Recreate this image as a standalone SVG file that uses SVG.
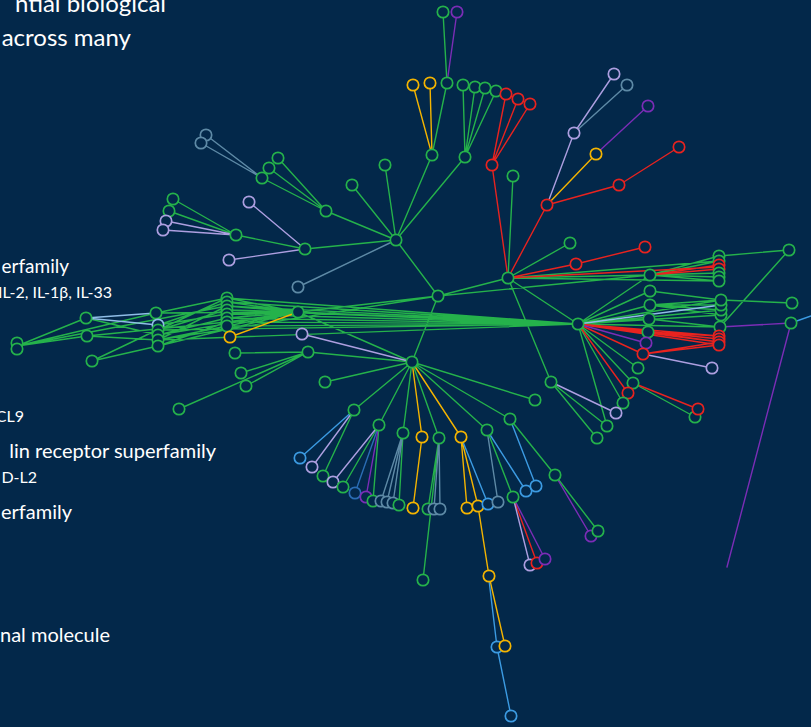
<svg xmlns="http://www.w3.org/2000/svg" width="811" height="727" viewBox="0 0 811 727">
<style>
.e{fill:none;stroke-width:1.4;stroke-linecap:round}
.n{fill:#03284a;stroke-width:1.7}
.g{stroke:#25b24b}.r{stroke:#e8231f}.y{stroke:#f4b400}.l{stroke:#ad9fe0}.s{stroke:#5e8aa6}.b{stroke:#3c9be2}.db{stroke:#2b6db4}.lb{stroke:#8fbde6}.p{stroke:#7b2db6}
.t{fill:#ffffff;font-family:Lato,"Open Sans","Liberation Sans",sans-serif;text-anchor:end}
</style>
<rect width="811" height="727" fill="#03284a"/>
<g id="labels">
<text class="t" x="166" y="12" font-size="24">ntial biological</text>
<text class="t" x="131" y="46" font-size="24">across many</text>
<text class="t" x="69" y="273" font-size="19">erfamily</text>
<text class="t" x="112" y="298" font-size="16">IL-2, IL-1β, IL-33</text>
<text class="t" x="24" y="422" font-size="16">CL9</text>
<text class="t" x="216" y="458" font-size="20">lin receptor superfamily</text>
<text class="t" x="37" y="483" font-size="16">D-L2</text>
<text class="t" x="72" y="519" font-size="20">erfamily</text>
<text class="t" x="110" y="642" font-size="20">nal molecule</text>
</g>
<g id="connectors">
<path class="e g" d="M443,12L447,83M447,83L432,155M432,155L396,240M463,85L465,157M475,87L465,157M485,88L465,157M496,91L465,157M465,157L396,240M513,176L508,278M352,185L396,240M385,165L396,240
M278,158L326,211M269,168L326,211M262,178L326,211M326,211L396,240M173,199L236,235M169,211L236,235M236,235L305,249M305,249L396,240
M396,240L438,296M438,296L508,278M438,296L412,362M438,296L650,275M298,312L438,296M298,312L412,362M158,340L438,296
M508,278L570,243M508,278L650,275M508,278L578,324M508,278L551,382M508,278L719,261M508,278L719,281
M650,275L719,256M650,275L719,261M650,275L719,273M650,275L719,277M650,275L719,281M789,250L719,256M789,250L720,327
M578,324L650,275M578,324L650,291M578,324L650,305M578,324L649,319M578,324L648,332M578,324L721,300M578,324L721,310M578,324L721,315M578,324L720,327
M650,305L721,300M650,305L721,305M650,305L721,310M650,305L721,315M650,291L721,300M649,319L720,327M792,303L721,300
M578,324L638,368M578,324L633,383M578,324L623,403M578,324L607,426M633,383L695,417M551,382L607,426M551,382L597,438M412,362L535,400M412,362L510,419
M17,346L86,318M17,346L87,336M17,346L156,313M17,346L227,306M86,318L158,335M87,336L158,340M87,336L227,322M92,361L157,330M92,361L158,346M156,313L227,298M156,313L298,312
M158,325L227,302M158,330L227,310M158,335L227,318M158,340L227,326M158,346L227,322M158,325L227,314M158,330L227,298M158,340L227,306M158,346L298,312M158,335L298,312
M227,298L298,312M227,302L298,312M227,306L298,312M227,310L298,312M227,314L298,312M227,318L298,312M227,322L298,312M227,326L298,312
M227,298L578,324M227,302L578,324M227,306L578,324M227,310L578,324M227,314L578,324M227,318L578,324M227,322L578,324M227,326L578,324M158,330L578,324M158,340L578,324M298,312L578,324
M235,353L308,352M241,373L308,352M246,386L308,352M179,409L308,352M308,352L412,362M325,382L412,362
M412,362L354,410M412,362L379,425M412,362L403,433M412,362L439,438M412,362L487,430M354,410L323,476M379,425L343,487M379,425L373,501M403,433L399,505M439,438L428,509M439,438L423,580M487,430L513,497M510,419L555,475M555,475L598,531"/>
<path class="e r" d="M506,94L492,165M518,99L492,165M530,104L492,165M492,165L508,278M547,205L508,278M619,185L547,205M679,147L619,185M508,278L576,264M576,264L645,247M650,275L719,265M650,275L719,269M508,278L719,267
M578,324L643,354M578,324L719,336M578,324L719,339M578,324L719,342M578,324L719,345M648,332L719,336M648,332L719,342M643,354L719,342M643,354L719,345M578,324L628,393M633,383L698,409M513,497L537,563"/>
<path class="e y" d="M413,85L432,155M430,83L432,155M596,154L547,205M230,337L298,312M412,362L422,437M412,362L461,437M422,437L413,508M461,437L467,508M461,437L478,506M478,506L489,576M489,576L505,646"/>
<path class="e l" d="M614,74L574,133M574,133L547,205M166,221L236,235M163,230L236,235M249,202L305,249M229,260L305,249M302,334L412,362M643,354L712,368M551,382L616,413M354,410L312,467M379,425L333,482M513,497L530,565"/>
<path class="e s" d="M627,85L574,133M206,135L262,178M201,143L262,178M396,240L298,287M403,433L381,501M403,433L387,502M403,433L393,503M439,438L434,509M439,438L440,509M487,430L498,502"/>
<path class="e b" d="M354,410L300,458M461,437L488,504M487,430L526,491M510,419L536,486M489,580L497,647M497,647L511,716M791,323L811,316"/>
<path class="e db" d="M379,425L355,493"/>
<path class="e lb" d="M578,324L721,305M86,318L156,313M86,318L158,325"/>
<path class="e p" d="M457,12L447,83M648,106L596,154M578,324L646,343M720,327L791,323M791,323L727,567M379,425L366,497M555,475L591,536M513,497L545,559"/>
</g>
<g id="nodes">
<g id="n1"><circle class="n g" cx="443" cy="12" r="5.7"/></g>
<g id="n2"><circle class="n p" cx="457" cy="12" r="5.7"/></g>
<g id="n3"><circle class="n g" cx="447" cy="83" r="5.7"/></g>
<g id="n4"><circle class="n y" cx="413" cy="85" r="5.7"/></g>
<g id="n5"><circle class="n y" cx="430" cy="83" r="5.7"/></g>
<g id="n6"><circle class="n g" cx="432" cy="155" r="5.7"/></g>
<g id="n7"><circle class="n g" cx="463" cy="85" r="5.7"/></g>
<g id="n8"><circle class="n g" cx="475" cy="87" r="5.7"/></g>
<g id="n9"><circle class="n g" cx="485" cy="88" r="5.7"/></g>
<g id="n10"><circle class="n g" cx="496" cy="91" r="5.7"/></g>
<g id="n11"><circle class="n g" cx="465" cy="157" r="5.7"/></g>
<g id="n12"><circle class="n r" cx="506" cy="94" r="5.7"/></g>
<g id="n13"><circle class="n r" cx="518" cy="99" r="5.7"/></g>
<g id="n14"><circle class="n r" cx="530" cy="104" r="5.7"/></g>
<g id="n15"><circle class="n r" cx="492" cy="165" r="5.7"/></g>
<g id="n16"><circle class="n g" cx="513" cy="176" r="5.7"/></g>
<g id="n17"><circle class="n g" cx="352" cy="185" r="5.7"/></g>
<g id="n18"><circle class="n g" cx="385" cy="165" r="5.7"/></g>
<g id="n19"><circle class="n l" cx="614" cy="74" r="5.7"/></g>
<g id="n20"><circle class="n s" cx="627" cy="85" r="5.7"/></g>
<g id="n21"><circle class="n p" cx="648" cy="106" r="5.7"/></g>
<g id="n22"><circle class="n l" cx="574" cy="133" r="5.7"/></g>
<g id="n23"><circle class="n y" cx="596" cy="154" r="5.7"/></g>
<g id="n24"><circle class="n r" cx="679" cy="147" r="5.7"/></g>
<g id="n25"><circle class="n r" cx="619" cy="185" r="5.7"/></g>
<g id="n26"><circle class="n r" cx="547" cy="205" r="5.7"/></g>
<g id="n27"><circle class="n g" cx="570" cy="243" r="5.7"/></g>
<g id="n28"><circle class="n r" cx="576" cy="264" r="5.7"/></g>
<g id="n29"><circle class="n r" cx="645" cy="247" r="5.7"/></g>
<g id="n30"><circle class="n s" cx="206" cy="135" r="5.7"/></g>
<g id="n31"><circle class="n s" cx="201" cy="143" r="5.7"/></g>
<g id="n32"><circle class="n g" cx="278" cy="158" r="5.7"/></g>
<g id="n33"><circle class="n g" cx="269" cy="168" r="5.7"/></g>
<g id="n34"><circle class="n g" cx="262" cy="178" r="5.7"/></g>
<g id="n35"><circle class="n g" cx="326" cy="211" r="5.7"/></g>
<g id="n36"><circle class="n g" cx="173" cy="199" r="5.7"/></g>
<g id="n37"><circle class="n g" cx="169" cy="211" r="5.7"/></g>
<g id="n38"><circle class="n l" cx="166" cy="221" r="5.7"/></g>
<g id="n39"><circle class="n l" cx="163" cy="230" r="5.7"/></g>
<g id="n40"><circle class="n g" cx="236" cy="235" r="5.7"/></g>
<g id="n41"><circle class="n l" cx="249" cy="202" r="5.7"/></g>
<g id="n42"><circle class="n g" cx="305" cy="249" r="5.7"/></g>
<g id="n43"><circle class="n l" cx="229" cy="260" r="5.7"/></g>
<g id="n44"><circle class="n s" cx="298" cy="287" r="5.7"/></g>
<g id="n45"><circle class="n g" cx="396" cy="240" r="5.7"/></g>
<g id="n46"><circle class="n g" cx="438" cy="296" r="5.7"/></g>
<g id="n47"><circle class="n g" cx="508" cy="278" r="5.7"/></g>
<g id="n48"><circle class="n g" cx="578" cy="324" r="5.7"/></g>
<g id="n49"><circle class="n g" cx="412" cy="362" r="5.7"/></g>
<g id="n50"><circle class="n g" cx="650" cy="275" r="5.7"/></g>
<g id="n51"><circle class="n g" cx="719" cy="256" r="5.7"/></g>
<g id="n52"><circle class="n g" cx="719" cy="261" r="5.7"/></g>
<g id="n53"><circle class="n r" cx="719" cy="265" r="5.7"/></g>
<g id="n54"><circle class="n r" cx="719" cy="269" r="5.7"/></g>
<g id="n55"><circle class="n g" cx="719" cy="273" r="5.7"/></g>
<g id="n56"><circle class="n g" cx="719" cy="277" r="5.7"/></g>
<g id="n57"><circle class="n g" cx="719" cy="281" r="5.7"/></g>
<g id="n58"><circle class="n g" cx="789" cy="250" r="5.7"/></g>
<g id="n59"><circle class="n g" cx="650" cy="291" r="5.7"/></g>
<g id="n60"><circle class="n g" cx="650" cy="305" r="5.7"/></g>
<g id="n61"><circle class="n g" cx="649" cy="319" r="5.7"/></g>
<g id="n62"><circle class="n g" cx="648" cy="332" r="5.7"/></g>
<g id="n63"><circle class="n p" cx="646" cy="343" r="5.7"/></g>
<g id="n64"><circle class="n r" cx="643" cy="354" r="5.7"/></g>
<g id="n65"><circle class="n g" cx="721" cy="315" r="5.7"/></g>
<g id="n66"><circle class="n g" cx="721" cy="310" r="5.7"/></g>
<g id="n67"><circle class="n g" cx="721" cy="305" r="5.7"/></g>
<g id="n68"><circle class="n g" cx="721" cy="300" r="5.7"/></g>
<g id="n69"><circle class="n g" cx="720" cy="327" r="5.7"/></g>
<g id="n70"><circle class="n r" cx="719" cy="336" r="5.7"/></g>
<g id="n71"><circle class="n r" cx="719" cy="339" r="5.7"/></g>
<g id="n72"><circle class="n r" cx="719" cy="342" r="5.7"/></g>
<g id="n73"><circle class="n r" cx="719" cy="345" r="5.7"/></g>
<g id="n74"><circle class="n g" cx="792" cy="303" r="5.7"/></g>
<g id="n75"><circle class="n g" cx="791" cy="323" r="5.7"/></g>
<g id="n76"><circle class="n l" cx="712" cy="368" r="5.7"/></g>
<g id="n77"><circle class="n g" cx="638" cy="368" r="5.7"/></g>
<g id="n78"><circle class="n g" cx="633" cy="383" r="5.7"/></g>
<g id="n79"><circle class="n r" cx="628" cy="393" r="5.7"/></g>
<g id="n80"><circle class="n g" cx="623" cy="403" r="5.7"/></g>
<g id="n81"><circle class="n l" cx="616" cy="413" r="5.7"/></g>
<g id="n82"><circle class="n g" cx="607" cy="426" r="5.7"/></g>
<g id="n83"><circle class="n g" cx="597" cy="438" r="5.7"/></g>
<g id="n84"><circle class="n g" cx="695" cy="417" r="5.7"/></g>
<g id="n85"><circle class="n r" cx="698" cy="409" r="5.7"/></g>
<g id="n86"><circle class="n g" cx="551" cy="382" r="5.7"/></g>
<g id="n87"><circle class="n g" cx="535" cy="400" r="5.7"/></g>
<g id="n88"><circle class="n g" cx="17" cy="343" r="5.7"/></g>
<g id="n89"><circle class="n g" cx="17" cy="349" r="5.7"/></g>
<g id="n90"><circle class="n g" cx="86" cy="318" r="5.7"/></g>
<g id="n91"><circle class="n g" cx="87" cy="336" r="5.7"/></g>
<g id="n92"><circle class="n g" cx="92" cy="361" r="5.7"/></g>
<g id="n93"><circle class="n g" cx="156" cy="313" r="5.7"/></g>
<g id="n94"><circle class="n lb" cx="158" cy="325" r="5.7"/></g>
<g id="n95"><circle class="n g" cx="158" cy="330" r="5.7"/></g>
<g id="n96"><circle class="n g" cx="158" cy="335" r="5.7"/></g>
<g id="n97"><circle class="n g" cx="158" cy="340" r="5.7"/></g>
<g id="n98"><circle class="n g" cx="158" cy="346" r="5.7"/></g>
<g id="n99"><circle class="n g" cx="227" cy="298" r="5.7"/></g>
<g id="n100"><circle class="n g" cx="227" cy="302" r="5.7"/></g>
<g id="n101"><circle class="n g" cx="227" cy="306" r="5.7"/></g>
<g id="n102"><circle class="n g" cx="227" cy="310" r="5.7"/></g>
<g id="n103"><circle class="n g" cx="227" cy="314" r="5.7"/></g>
<g id="n104"><circle class="n g" cx="227" cy="318" r="5.7"/></g>
<g id="n105"><circle class="n g" cx="227" cy="322" r="5.7"/></g>
<g id="n106"><circle class="n g" cx="227" cy="326" r="5.7"/></g>
<g id="n107"><circle class="n y" cx="230" cy="337" r="5.7"/></g>
<g id="n108"><circle class="n g" cx="298" cy="312" r="5.7"/></g>
<g id="n109"><circle class="n l" cx="302" cy="334" r="5.7"/></g>
<g id="n110"><circle class="n g" cx="235" cy="353" r="5.7"/></g>
<g id="n111"><circle class="n g" cx="308" cy="352" r="5.7"/></g>
<g id="n112"><circle class="n g" cx="241" cy="373" r="5.7"/></g>
<g id="n113"><circle class="n g" cx="246" cy="386" r="5.7"/></g>
<g id="n114"><circle class="n g" cx="325" cy="382" r="5.7"/></g>
<g id="n115"><circle class="n g" cx="179" cy="409" r="5.7"/></g>
<g id="n116"><circle class="n g" cx="354" cy="410" r="5.7"/></g>
<g id="n117"><circle class="n g" cx="379" cy="425" r="5.7"/></g>
<g id="n118"><circle class="n g" cx="403" cy="433" r="5.7"/></g>
<g id="n119"><circle class="n y" cx="422" cy="437" r="5.7"/></g>
<g id="n120"><circle class="n g" cx="439" cy="438" r="5.7"/></g>
<g id="n121"><circle class="n y" cx="461" cy="437" r="5.7"/></g>
<g id="n122"><circle class="n g" cx="487" cy="430" r="5.7"/></g>
<g id="n123"><circle class="n g" cx="510" cy="419" r="5.7"/></g>
<g id="n124"><circle class="n g" cx="555" cy="475" r="5.7"/></g>
<g id="n125"><circle class="n p" cx="591" cy="536" r="5.7"/></g>
<g id="n126"><circle class="n g" cx="598" cy="531" r="5.7"/></g>
<g id="n127"><circle class="n b" cx="300" cy="458" r="5.7"/></g>
<g id="n128"><circle class="n l" cx="312" cy="467" r="5.7"/></g>
<g id="n129"><circle class="n g" cx="323" cy="476" r="5.7"/></g>
<g id="n130"><circle class="n l" cx="333" cy="482" r="5.7"/></g>
<g id="n131"><circle class="n g" cx="343" cy="487" r="5.7"/></g>
<g id="n132"><circle class="n db" cx="355" cy="493" r="5.7"/></g>
<g id="n133"><circle class="n p" cx="366" cy="497" r="5.7"/></g>
<g id="n134"><circle class="n g" cx="373" cy="501" r="5.7"/></g>
<g id="n135"><circle class="n s" cx="381" cy="501" r="5.7"/></g>
<g id="n136"><circle class="n s" cx="387" cy="502" r="5.7"/></g>
<g id="n137"><circle class="n s" cx="393" cy="503" r="5.7"/></g>
<g id="n138"><circle class="n g" cx="399" cy="505" r="5.7"/></g>
<g id="n139"><circle class="n y" cx="413" cy="508" r="5.7"/></g>
<g id="n140"><circle class="n g" cx="428" cy="509" r="5.7"/></g>
<g id="n141"><circle class="n s" cx="434" cy="509" r="5.7"/></g>
<g id="n142"><circle class="n s" cx="440" cy="509" r="5.7"/></g>
<g id="n143"><circle class="n g" cx="423" cy="580" r="5.7"/></g>
<g id="n144"><circle class="n y" cx="467" cy="508" r="5.7"/></g>
<g id="n145"><circle class="n y" cx="478" cy="506" r="5.7"/></g>
<g id="n146"><circle class="n b" cx="488" cy="504" r="5.7"/></g>
<g id="n147"><circle class="n s" cx="498" cy="502" r="5.7"/></g>
<g id="n148"><circle class="n g" cx="513" cy="497" r="5.7"/></g>
<g id="n149"><circle class="n b" cx="526" cy="491" r="5.7"/></g>
<g id="n150"><circle class="n b" cx="536" cy="486" r="5.7"/></g>
<g id="n151"><circle class="n l" cx="530" cy="565" r="5.7"/></g>
<g id="n152"><circle class="n r" cx="537" cy="563" r="5.7"/></g>
<g id="n153"><circle class="n p" cx="545" cy="559" r="5.7"/></g>
<g id="n154"><circle class="n y" cx="489" cy="576" r="5.7"/></g>
<g id="n155"><circle class="n b" cx="497" cy="647" r="5.7"/></g>
<g id="n156"><circle class="n y" cx="505" cy="646" r="5.7"/></g>
<g id="n157"><circle class="n b" cx="511" cy="716" r="5.7"/></g>
</g>
</svg>
